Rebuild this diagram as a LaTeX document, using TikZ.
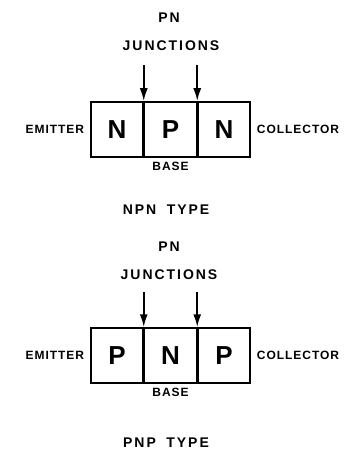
\documentclass[tikz,border=0pt]{standalone}
\usepackage{fontspec}
\newfontfamily\lettering[LetterSpace=14,WordSpace=1.8]{Liberation Sans}
\newfontfamily\smalllettering[LetterSpace=8]{Liberation Sans}
\usetikzlibrary{arrows.meta,positioning}

\begin{document}
\begin{tikzpicture}[x=1pt,y=-1pt,
    cell/.style={draw,line width=1.5pt,minimum width=52pt,minimum height=55pt,inner sep=0pt,
        font=\lettering\bfseries\fontsize{26}{26}\selectfont},
    lbl/.style={inner sep=0pt,font=\smalllettering\bfseries\fontsize{12}{12}\selectfont},
    head/.style={inner sep=0pt,font=\lettering\bfseries\fontsize{14}{14}\selectfont},
    junc/.style={-{Latex[length=13pt,width=8pt]},line width=2pt}]
    \useasboundingbox (0,0) rectangle (345,468);
    % NPN transistor
    \node[cell] (na) at (117,129.5) {N};
    \node[cell,right=0pt of na] (nb) {P};
    \node[cell,right=0pt of nb] (nc) {N};
    \node[lbl,left=6pt of na] (emitn) {EMITTER};
    \node[lbl,right=6pt of nc] (colln) {COLLECTOR};
    \node[lbl,below=4pt of nb] (basen) {BASE};
    \node[head] (pnn) at (169,18) {PN};
    \node[head] (juncn) at (171,46) {JUNCTIONS};
    \coordinate[above=36pt of na.north east] (ja);
    \coordinate[above=36pt of nb.north east] (jb);
    \draw[junc] (ja) -- (na.north east);
    \draw[junc] (jb) -- (nb.north east);
    \node[head] (typen) at (166,210) {NPN TYPE};
    % PNP transistor
    \node[cell] (pa) at (117,355.5) {P};
    \node[cell,right=0pt of pa] (pb) {N};
    \node[cell,right=0pt of pb] (pc) {P};
    \node[lbl,left=6pt of pa] (emitp) {EMITTER};
    \node[lbl,right=6pt of pc] (collp) {COLLECTOR};
    \node[lbl,below=4pt of pb] (basep) {BASE};
    \node[head] (pnp) at (169,247) {PN};
    \node[head] (juncp) at (169,275) {JUNCTIONS};
    \coordinate[above=35pt of pa.north east] (jc);
    \coordinate[above=35pt of pb.north east] (jd);
    \draw[junc] (jc) -- (pa.north east);
    \draw[junc] (jd) -- (pb.north east);
    \node[head] (typep) at (166,443) {PNP TYPE};
\end{tikzpicture}
\end{document}
